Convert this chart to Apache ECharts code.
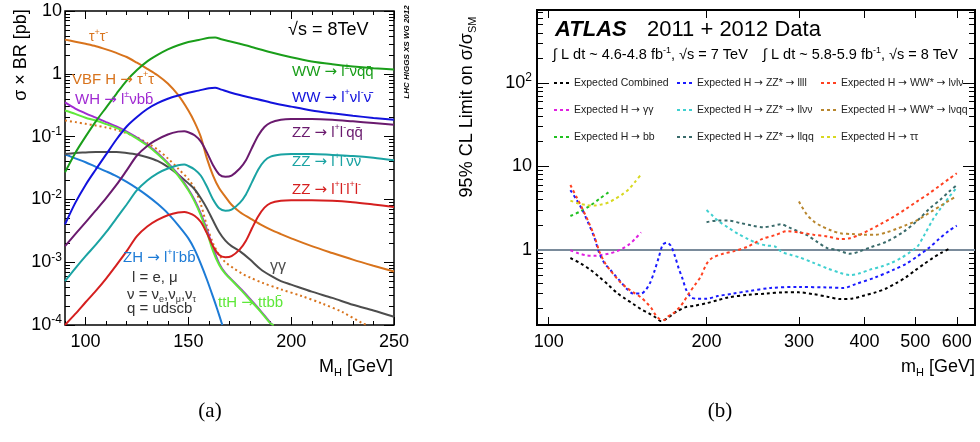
<!DOCTYPE html>
<html><head><meta charset="utf-8">
<script src="https://cdn.jsdelivr.net/npm/echarts@6/dist/echarts.min.js"></script>
<style>html,body{margin:0;padding:0;background:#fff}#c{width:980px;height:442px}</style>
</head><body><div id="c"></div>
<script>
// ================= Panel (a): sigma x BR [pb] vs M_H [GeV] =================
const massLabelsA = [100, 150, 200, 250];
const massMinorA = [90,100,110,120,130,140,150,160,170,180,190,200,210,220,230,240,250];
const sigmaMajorA = [1e-4, 1e-3, 1e-2, 1e-1, 1, 10];

const tauTau = [[90,3.5],[95,3.25],[100,3.0],[105,2.75],[110,2.45],[115,2.15],[120,1.85],[125,1.5],[130,1.2],[135,0.95],[140,0.7],[145,0.46],[150,0.26],[153,0.17],[156,0.1],[159,0.045],[162,0.024],[165,0.015],[168,0.011],[171,0.0082],[175,0.0063],[180,0.005],[185,0.004],[190,0.0033],[195,0.0028],[200,0.0024],[210,0.0018],[220,0.0014],[230,0.0011],[240,0.00088],[250,0.00071]];
const vbfTauTau = [[90,0.18],[95,0.17],[100,0.16],[105,0.15],[110,0.14],[115,0.128],[120,0.113],[125,0.097],[130,0.079],[135,0.062],[140,0.045],[145,0.031],[150,0.021],[153,0.015],[156,0.0085],[159,0.0038],[162,0.002],[165,0.0013],[168,0.001],[172,0.0008],[176,0.00066],[180,0.00057],[186,0.00047],[195,0.00037],[205,0.00029],[215,0.00022],[225,0.00016],[235,0.000105],[237,0.0001]];
const whLnuBB = [[90,0.35],[95,0.28],[100,0.235],[105,0.2],[110,0.17],[115,0.145],[120,0.12],[125,0.096],[130,0.074],[135,0.055],[140,0.038],[145,0.025],[150,0.0145],[153,0.0098],[156,0.006],[159,0.0033],[162,0.0017],[165,0.00095],[168,0.00067],[172,0.00049],[176,0.00036],[180,0.00026],[185,0.00017],[190,0.000107],[191,0.0001]];
const ttHttBB = [[90,0.26],[95,0.23],[100,0.2],[105,0.18],[110,0.158],[115,0.138],[120,0.116],[125,0.093],[130,0.072],[135,0.053],[140,0.037],[145,0.024],[150,0.014],[153,0.0093],[156,0.0056],[159,0.003],[162,0.0015],[165,0.0009],[168,0.00065],[172,0.00048],[176,0.00035],[180,0.00025],[185,0.000165],[190,0.000105],[191.5,0.0001]];
const gammaGamma = [[90,0.053],[95,0.055],[100,0.056],[105,0.057],[110,0.057],[115,0.057],[120,0.055],[125,0.052],[130,0.047],[135,0.041],[140,0.033],[145,0.025],[150,0.018],[153,0.0145],[156,0.0105],[159,0.0072],[162,0.0046],[165,0.003],[168,0.0022],[171,0.0018],[175,0.0015],[180,0.0011],[185,0.00078],[190,0.00061],[195,0.0005],[200,0.00044],[210,0.00034],[220,0.00027],[230,0.00021],[240,0.00017],[250,0.000135]];
const zhLLBB = [[90,0.052],[95,0.045],[100,0.039],[105,0.033],[110,0.028],[115,0.0235],[120,0.019],[125,0.015],[130,0.0115],[135,0.0085],[140,0.006],[145,0.0039],[150,0.0024],[153,0.0016],[156,0.00095],[159,0.00053],[162,0.00028],[164,0.00018],[166.5,0.0001]];
const wwLnuQQ = [[90,0.027],[95,0.055],[100,0.1],[105,0.175],[110,0.29],[115,0.48],[120,0.78],[125,1.15],[130,1.58],[135,2.0],[140,2.45],[145,2.85],[150,3.2],[155,3.45],[160,3.75],[163,3.8],[166,3.55],[170,3.3],[175,3.0],[180,2.72],[190,2.2],[200,1.83],[210,1.57],[220,1.42],[230,1.31],[240,1.23],[250,1.17]];
const wwLnuLnu = [[90,0.004],[95,0.0088],[100,0.017],[105,0.03],[110,0.052],[115,0.09],[120,0.145],[125,0.205],[130,0.275],[135,0.34],[140,0.4],[145,0.45],[150,0.5],[155,0.54],[160,0.59],[163,0.6],[166,0.56],[170,0.51],[175,0.46],[180,0.42],[190,0.35],[200,0.3],[210,0.26],[220,0.235],[230,0.215],[240,0.198],[250,0.185]];
const zzLLQQ = [[90,0.0018],[95,0.0028],[100,0.0043],[105,0.0067],[110,0.0105],[115,0.017],[120,0.029],[125,0.05],[130,0.071],[135,0.09],[140,0.108],[145,0.12],[148,0.122],[150,0.117],[153,0.105],[156,0.084],[159,0.056],[162,0.035],[165,0.025],[168,0.023],[171,0.024],[175,0.031],[178,0.042],[181,0.067],[184,0.104],[187,0.142],[190,0.167],[195,0.185],[200,0.19],[210,0.19],[220,0.185],[230,0.175],[240,0.165],[250,0.155]];
const zzLLNuNu = [[90,0.0005],[95,0.0008],[100,0.00125],[105,0.0019],[110,0.003],[115,0.005],[120,0.0083],[125,0.014],[130,0.02],[135,0.026],[140,0.031],[145,0.035],[148,0.036],[150,0.034],[153,0.03],[156,0.024],[159,0.016],[162,0.01],[165,0.0072],[168,0.0066],[171,0.0069],[175,0.0088],[178,0.012],[181,0.019],[184,0.03],[187,0.041],[190,0.048],[195,0.052],[200,0.053],[210,0.053],[220,0.051],[230,0.049],[240,0.046],[250,0.042]];
const zzLLLL = [[90,0.0001],[95,0.00015],[100,0.00023],[105,0.00035],[110,0.00055],[115,0.0009],[120,0.0015],[125,0.0026],[130,0.0037],[135,0.0047],[140,0.0056],[145,0.0062],[148,0.0063],[150,0.0061],[153,0.0055],[156,0.0044],[159,0.0029],[162,0.0018],[165,0.0013],[168,0.0012],[171,0.00125],[175,0.0016],[178,0.0022],[181,0.0035],[184,0.0054],[187,0.0074],[190,0.0087],[195,0.0095],[200,0.0097],[210,0.0097],[220,0.0095],[230,0.009],[240,0.0083],[250,0.0076]];

// ================= Panel (b): expected 95% CL limits vs m_H =================
const massLabelsB = [100, 200, 300, 400, 500, 600];
const limitMajorB = [1, 10, 100];
const refLevel = 1;

const expCombined = [[110,0.80],[115,0.69],[120,0.58],[125,0.47],[130,0.38],[135,0.305],[140,0.26],[145,0.225],[150,0.195],[155,0.175],[160,0.155],[164,0.14],[168,0.15],[172,0.168],[176,0.185],[182,0.205],[190,0.215],[200,0.23],[210,0.25],[220,0.27],[240,0.29],[260,0.30],[280,0.31],[300,0.31],[320,0.295],[340,0.275],[360,0.258],[380,0.262],[400,0.285],[420,0.31],[440,0.345],[460,0.40],[480,0.47],[500,0.57],[520,0.68],[540,0.80],[560,0.92],[580,1.03]];
const expGammaGamma = [[110,0.99],[114,0.91],[118,0.86],[122,0.85],[126,0.87],[130,0.9],[134,0.95],[138,1.03],[142,1.15],[146,1.35],[150,1.62]];
const expBB = [[110,2.55],[115,2.9],[120,3.4],[125,4.1],[130,4.9]];
const expZZ4l = [[110,5.2],[113,4.0],[116,3.0],[119,2.1],[122,1.45],[125,0.9],[128,0.68],[131,0.58],[134,0.49],[137,0.42],[141,0.34],[145,0.30],[150,0.30],[153,0.33],[156,0.40],[159,0.55],[162,0.80],[165,1.15],[168,1.22],[171,1.12],[174,0.85],[177,0.6],[180,0.45],[183,0.33],[187,0.27],[192,0.26],[200,0.26],[210,0.28],[225,0.30],[240,0.32],[265,0.35],[300,0.36],[340,0.355],[365,0.35],[385,0.39],[420,0.47],[455,0.58],[480,0.68],[505,0.84],[530,1.05],[555,1.35],[580,1.7],[600,1.95]];
const expZZllvv = [[200,3.0],[205,2.6],[210,2.25],[220,1.85],[230,1.55],[240,1.35],[250,1.2],[260,1.13],[270,1.1],[275,1.0],[280,0.93],[290,0.87],[300,0.82],[320,0.70],[340,0.60],[360,0.53],[375,0.50],[390,0.52],[410,0.58],[430,0.63],[450,0.70],[470,0.80],[490,0.95],[505,1.1],[520,1.5],[540,2.3],[560,3.2],[580,4.3],[600,5.6]];
const expZZllqq = [[200,2.15],[210,2.25],[220,2.25],[232,2.1],[245,1.95],[257,1.87],[268,1.95],[277,2.03],[288,1.85],[300,1.65],[311,1.5],[325,1.25],[340,1.05],[355,1.0],[375,0.9],[390,0.95],[410,1.07],[440,1.25],[475,1.65],[503,2.2],[533,3.15],[558,4.0],[580,5.0],[600,6.0]];
const expWWlvlv = [[110,6.0],[113,4.3],[116,3.1],[119,2.2],[122,1.5],[125,0.95],[128,0.70],[131,0.57],[134,0.48],[137,0.41],[141,0.35],[145,0.31],[150,0.27],[154,0.23],[157,0.20],[160,0.165],[163,0.148],[166,0.145],[169,0.16],[173,0.175],[177,0.20],[181,0.24],[185,0.30],[190,0.38],[195,0.48],[200,0.68],[205,0.80],[215,0.90],[225,0.96],[240,1.1],[255,1.35],[270,1.5],[285,1.68],[300,1.62],[320,1.52],[340,1.45],[360,1.35],[375,1.38],[390,1.5],[410,1.75],[430,2.05],[455,2.5],[480,3.1],[505,3.85],[530,4.7],[555,5.8],[580,7.1],[600,8.3]];
const expWWlvqq = [[300,3.8],[310,2.7],[320,2.2],[330,1.95],[345,1.72],[360,1.58],[380,1.55],[400,1.52],[420,1.52],[440,1.62],[460,1.78],[480,1.98],[500,2.2],[520,2.55],[540,2.95],[560,3.4],[580,3.9],[600,4.4]];
const expTauTau = [[110,3.9],[114,3.6],[118,3.45],[122,3.4],[126,3.5],[130,3.7],[134,4.1],[138,4.6],[142,5.3],[146,6.5],[150,8.0]];

// ---------------------------------------------------------------------------
const FONT = '"Liberation Sans", Arial, Helvetica, sans-serif';
const ARROW_FONT = '"DejaVu Sans", sans-serif';
function decadeMinors(e0, e1, lo, hi){ const out=[]; for(let e=e0;e<=e1;e++){ for(let k=2;k<=9;k++){ const v=Number((k*Math.pow(10,e)).toPrecision(3)); if(v>=lo && v<=hi) out.push(v);} } return out; }
const sigmaMinorA = decadeMinors(-4, 0, 1e-4, 10);
const limitMinorB = decadeMinors(-1, 2, 0.126, 750);

function supLabel(v){ const e = Math.round(Math.log10(v)); if (e===0) return '1'; if (e===1) return '10'; return '10{s|' + e + '}'; }
const axisRich = { s:{fontSize:12, lineHeight:12, verticalAlign:'top', fontFamily:FONT, color:'#000'} };

function mkAxis(grid, pos, type, min, max, ticks, len, labelVals, labelExtra){
  const a = { gridIndex:grid, position:pos, type, min, max, silent:true,
    axisLine:{show:false, onZero:false}, splitLine:{show:false},
    axisTick:{show:true, inside:true, length:len, customValues:ticks, lineStyle:{color:'#000', width:1}},
    axisLabel: labelVals ? Object.assign({show:true, customValues:labelVals, color:'#000', fontFamily:FONT, fontSize:18}, labelExtra||{}) : {show:false},
    axisPointer:{show:false} };
  if (type==='log') a.logBase = 10;
  return a;
}

const xAxes = [
  mkAxis(0,'bottom','value',90,250,massLabelsA,8,massLabelsA,{margin:8}),
  mkAxis(0,'bottom','value',90,250,massMinorA,4),
  mkAxis(0,'top','value',90,250,massLabelsA,8),
  mkAxis(0,'top','value',90,250,massMinorA,4),
  mkAxis(1,'bottom','log',95,650,massLabelsB,8,massLabelsB,{margin:8}),
  mkAxis(1,'top','log',95,650,massLabelsB,8)
];
const yAxes = [
  mkAxis(0,'left','log',1e-4,10,sigmaMajorA,10,sigmaMajorA,{margin:3, formatter:supLabel, lineHeight:22, rich:axisRich}),
  mkAxis(0,'left','log',1e-4,10,sigmaMinorA,5),
  mkAxis(0,'right','log',1e-4,10,sigmaMajorA,10),
  mkAxis(0,'right','log',1e-4,10,sigmaMinorA,5),
  mkAxis(1,'left','log',0.126,750,limitMajorB,12,limitMajorB,{margin:5, formatter:supLabel, lineHeight:22, rich:axisRich}),
  mkAxis(1,'left','log',0.126,750,limitMinorB,6),
  mkAxis(1,'right','log',0.126,750,limitMajorB,12),
  mkAxis(1,'right','log',0.126,750,limitMinorB,6)
];

function curveA(name, data, color, extra){
  return Object.assign({ name, type:'line', xAxisIndex:0, yAxisIndex:0, data, symbol:'none', smooth:0.3, silent:true,
    lineStyle:{color, width:2}, itemStyle:{color} }, extra||{});
}
function curveB(name, data, color, extra){
  return Object.assign({ name, type:'line', xAxisIndex:4, yAxisIndex:4, data, symbol:'none', smooth:0.3, silent:true,
    lineStyle:{color, width:2, type:[3,3]}, itemStyle:{color} }, extra||{});
}

const C = { tau:'#d8731c', wh:'#a02ad2', tth:'#5fe83a', gg:'#4d4d4d', zh:'#1d7bd6', wwqq:'#1a9e1a', wwll:'#1212dd', llqq:'#6a1a6e', llvv:'#1aa3a3', l4:'#d51f1f' };

const seriesA = [
  curveA('a_tautau', tauTau, C.tau),
  curveA('a_vbf', vbfTauTau, C.tau, {lineStyle:{color:C.tau, width:2, type:[2,3]}}),
  curveA('a_zh', zhLLBB, C.zh),
  curveA('a_gg', gammaGamma, C.gg),
  curveA('a_wh', whLnuBB, C.wh),
  curveA('a_tth', ttHttBB, C.tth),
  curveA('a_4l', zzLLLL, C.l4),
  curveA('a_llvv', zzLLNuNu, C.llvv),
  curveA('a_llqq', zzLLQQ, C.llqq),
  curveA('a_wwll', wwLnuLnu, C.wwll),
  curveA('a_wwqq', wwLnuQQ, C.wwqq)
];
const N = {
  comb:'Expected Combined', gg:'Expected H → γγ', bb:'Expected H → bb',
  zz4l:'Expected H → ZZ* → llll', llvv:'Expected H → ZZ* → llνν', llqq:'Expected H → ZZ* → llqq',
  lvlv:'Expected H → WW* → lνlν', lvqq:'Expected H → WW* → lνqq', tt:'Expected H → ττ'
};
const seriesB = [
  curveB(N.comb, expCombined, '#000000', {markLine:{silent:true, symbol:['none','none'], label:{show:false}, z:1,
     lineStyle:{color:'#7a8b9b', width:2, type:'solid'}, data:[{yAxis:refLevel}]}}),
  curveB(N.gg, expGammaGamma, '#e020e0'),
  curveB(N.bb, expBB, '#20c020'),
  curveB(N.zz4l, expZZ4l, '#1a1aff'),
  curveB(N.llvv, expZZllvv, '#40d0d0'),
  curveB(N.llqq, expZZllqq, '#3a6b6b'),
  curveB(N.lvlv, expWWlvlv, '#ff4020'),
  curveB(N.lvqq, expWWlvqq, '#b8862e'),
  curveB(N.tt, expTauTau, '#d8d820')
];

function rich(size){ const s=Math.round(size*0.62); return {
  s:{fontSize:s, lineHeight:s, verticalAlign:'top'},
  u:{fontSize:s, lineHeight:s, verticalAlign:'bottom'},
  a:{fontSize:size, fontFamily:ARROW_FONT} }; }
function withArrow(t){ return t.replace(/→/g, '{a|→}'); }
function txt(x, y, text, color, size, opt){
  opt = opt || {};
  return { type:'text', x, y, rotation:opt.rot||0, z:100, silent:true,
    style:Object.assign({ text:withArrow(text), fill:color, fontSize:size, fontFamily:FONT, lineHeight:Math.round(size*1.25),
      align:opt.align||'left', verticalAlign:'middle', rich:rich(size) }, opt.style||{}) };
}
const graphics = [
  // panel (a)
  txt(21, 55, 'σ × BR [pb]', '#000', 18, {rot:Math.PI/2, align:'center'}),
  txt(393, 367, 'M{u|H} [GeV]', '#000', 18, {align:'right'}),
  txt(288, 30, '√s = 8TeV', '#000', 18),
  txt(407, 52, 'LHC HIGGS XS WG 2012', '#000', 8, {rot:Math.PI/2, align:'center', style:{fontWeight:'bold', fontStyle:'italic'}}),
  txt(89, 37, 'τ{s|+}τ{s|-}', C.tau, 14),
  txt(72, 80, 'VBF H → τ{s|+}τ{s|-}', C.tau, 15),
  txt(75, 100, 'WH → l{s|±}νbb\u0304', C.wh, 15),
  txt(292, 72, 'WW → l{s|±}νqq\u0304', C.wwqq, 15),
  txt(292, 98, 'WW → l{s|+}νl{s|-}ν\u0304', C.wwll, 15),
  txt(292, 133, 'ZZ → l{s|+}l{s|-}qq\u0304', C.llqq, 15),
  txt(292, 162, 'ZZ → l{s|+}l{s|-}νν\u0304', C.llvv, 15),
  txt(292, 190, 'ZZ → l{s|+}l{s|-}l{s|+}l{s|-}', C.l4, 15),
  txt(270, 267, 'γγ', C.gg, 16),
  txt(123, 258, 'ZH → l{s|+}l{s|-}bb\u0304', C.zh, 15),
  txt(132, 278, 'l = e, μ', '#333', 15),
  txt(127, 295, 'ν = ν{u|e},ν{u|μ},ν{u|τ}', '#333', 15),
  txt(127, 309, 'q = udscb', '#333', 15),
  txt(218, 303, 'ttH → ttbb\u0304', C.tth, 15),
  txt(210, 411, '(a)', '#000', 21, {align:'center', style:{fontFamily:'"Liberation Serif", "DejaVu Serif", serif'}}),
  // panel (b)
  txt(555, 30, 'ATLAS', '#000', 22, {style:{fontWeight:'bold', fontStyle:'italic'}}),
  txt(647, 30, '2011 + 2012 Data', '#000', 22),
  txt(553, 55, '∫ L dt ~ 4.6-4.8 fb{s|-1}, √s = 7 TeV', '#000', 14.5),
  txt(763, 55, '∫ L dt ~ 5.8-5.9 fb{s|-1}, √s = 8 TeV', '#000', 14.5),
  txt(467, 107, '95% CL Limit on σ/σ{u|SM}', '#000', 18, {rot:Math.PI/2, align:'center'}),
  txt(975, 367, 'm{u|H} [GeV]', '#000', 18, {align:'right'}),
  txt(720, 411, '(b)', '#000', 21, {align:'center', style:{fontFamily:'"Liberation Serif", "DejaVu Serif", serif'}})
];

function mkLegend(left, names){
  return { left, top:77, orient:'vertical', padding:0, itemWidth:15, itemHeight:12, itemGap:15, selectedMode:false,
    itemStyle:{opacity:0}, formatter:function(n){ return withArrow(n); },
    textStyle:{fontSize:10.5, lineHeight:12, color:'#222', fontFamily:FONT,
      rich:{a:{fontSize:10.5, lineHeight:12, fontFamily:ARROW_FONT, color:'#222'}}}, data:names };
}

const chart = echarts.init(document.getElementById('c'), null, {renderer:'canvas'});
chart.setOption({
  animation:false,
  backgroundColor:'#fff',
  grid:[
    {left:65, top:8, width:329, height:317, show:true, borderColor:'#000', borderWidth:1.5, backgroundColor:'transparent', containLabel:false},
    {left:537, top:10, width:438, height:315, show:true, borderColor:'#000', borderWidth:2, backgroundColor:'transparent', containLabel:false}
  ],
  xAxis: xAxes,
  yAxis: yAxes,
  legend:[
    mkLegend(553, [N.comb, N.gg, N.bb]),
    mkLegend(676, [N.zz4l, N.llvv, N.llqq]),
    mkLegend(820, [N.lvlv, N.lvqq, N.tt])
  ],
  series: seriesA.concat(seriesB),
  graphic: graphics
});
</script>
</body></html>
